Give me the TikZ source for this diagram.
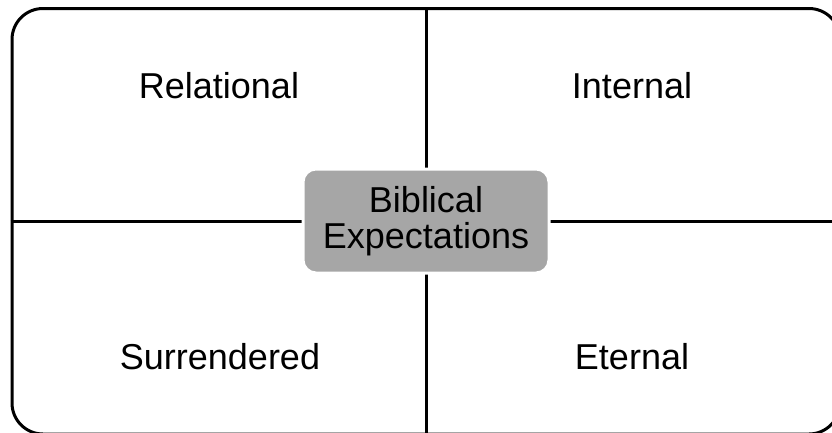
\documentclass[tikz,border=0pt]{standalone}
\usepackage{fontspec}
\setmainfont{Liberation Sans}
\usetikzlibrary{positioning}
\tikzset {frame/.style={draw,line width=3pt,rounded corners=31pt,minimum width=828pt,minimum height=425.5pt,inner sep=0pt},
  quad/.style={font=\fontsize{36}{40}\selectfont},
  hub/.style={fill=black!35,draw=white,line width=3pt,rounded corners=13pt,minimum width=246pt,minimum height=104pt,inner sep=0pt,align=center,font=\fontsize{36}{36}\selectfont}}

\begin{document}
\begin{tikzpicture}[x=1pt,y=-1pt]
\useasboundingbox (0,0) rectangle (832,432);
\node[frame] (F) at (426,221.25) {};
\draw[line width=3pt] (F.north) -- (F.south);
\draw[line width=3pt] (F.west) -- (F.east);

\node[quad] (rel) at (219,86) {Relational};
\node[quad] (int) at (632,86) {Internal};
\node[quad] (sur) at (220,357) {Surrendered};
\node[quad] (ete) at (632,357) {Eternal};

\node[hub] (B) at (426,221) {Biblical\\Expectations};
\end{tikzpicture}
\end{document}
